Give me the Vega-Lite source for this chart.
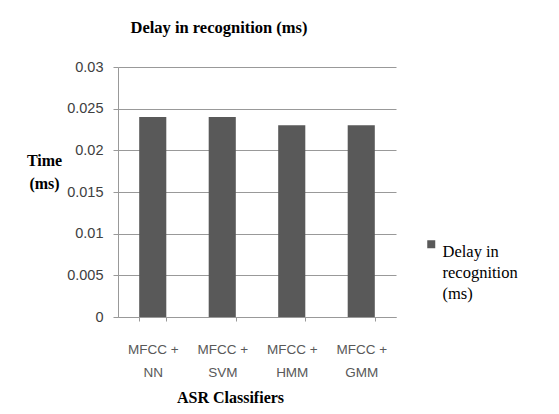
{
  "$schema": "https://vega.github.io/schema/vega-lite/v6.json",
  "autosize": "none",
  "width": 278,
  "height": 250,
  "padding": {"left": 118, "top": 67, "right": 163, "bottom": 97},
  "background": "white",
  "title": {
    "text": "Delay in recognition (ms)",
    "font": "Liberation Serif",
    "fontSize": 16.5,
    "fontWeight": "bold",
    "color": "#000000",
    "anchor": "middle",
    "dx": -38,
    "offset": 23
  },
  "data": {
    "values": [
      {"classifier": "MFCC + NN", "delay": 0.024, "series": "Delay in recognition (ms)"},
      {"classifier": "MFCC + SVM", "delay": 0.024, "series": "Delay in recognition (ms)"},
      {"classifier": "MFCC + HMM", "delay": 0.023, "series": "Delay in recognition (ms)"},
      {"classifier": "MFCC + GMM", "delay": 0.023, "series": "Delay in recognition (ms)"}
    ]
  },
  "mark": {"type": "bar"},
  "encoding": {
    "x": {
      "field": "classifier",
      "type": "nominal",
      "sort": null,
      "scale": {"paddingInner": 0.61, "paddingOuter": 0.305},
      "axis": {
        "title": "ASR Classifiers",
        "titleFont": "Liberation Serif",
        "titleFontSize": 16,
        "titleFontWeight": "bold",
        "titleColor": "#000000",
        "titleX": 112,
        "titleY": 80,
        "titleBaseline": "middle",
        "labelAngle": 0,
        "labelExpr": "[substring(datum.label, 0, 6), substring(datum.label, 7)]",
        "labelFont": "Liberation Sans",
        "labelFontSize": 13.5,
        "labelColor": "#595959",
        "labelLineHeight": 23,
        "labelBaseline": "top",
        "labelPadding": 21,
        "tickBand": "extent",
        "tickSize": 4,
        "tickColor": "#999999",
        "domainColor": "#999999",
        "grid": false
      }
    },
    "y": {
      "field": "delay",
      "type": "quantitative",
      "scale": {"domain": [0, 0.03], "nice": false},
      "axis": {
        "title": ["Time", "(ms)"],
        "titleFont": "Liberation Serif",
        "titleFontSize": 16,
        "titleFontWeight": "bold",
        "titleColor": "#000000",
        "titleAngle": 0,
        "titleX": -74,
        "titleY": 93,
        "titleAlign": "center",
        "titleBaseline": "middle",
        "titleLineHeight": 23,
        "values": [0, 0.005, 0.01, 0.015, 0.02, 0.025, 0.03],
        "format": "~g",
        "labelFont": "Liberation Sans",
        "labelFontSize": 14.5,
        "labelColor": "#404040",
        "labelPadding": 10,
        "tickSize": 5,
        "tickColor": "#999999",
        "domainColor": "#999999",
        "grid": true,
        "gridColor": "#999999"
      }
    },
    "color": {
      "field": "series",
      "type": "nominal",
      "scale": {"range": ["#595959"]},
      "legend": {
        "title": null,
        "orient": "none",
        "legendX": 305,
        "legendY": 169,
        "symbolType": "square",
        "symbolSize": 64,
        "symbolStrokeWidth": 0,
        "labelExpr": "['Delay in', 'recognition', '(ms)']",
        "labelFont": "Liberation Serif",
        "labelFontSize": 16.5,
        "labelColor": "#000000",
        "labelBaseline": "top",
        "labelOffset": 3,
        "labelLimit": 200,
        "encode": {"labels": {"update": {"lineHeight": {"value": 21}}}}
      }
    }
  },
  "config": {
    "view": {"stroke": null},
    "axis": {"domainWidth": 1, "tickWidth": 1, "gridWidth": 1}
  }
}
